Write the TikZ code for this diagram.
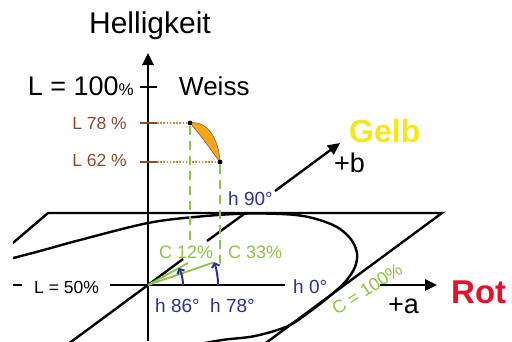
\documentclass[tikz,border=0pt]{standalone}
\usepackage{fontspec}
\setmainfont{Liberation Sans}
\usetikzlibrary{arrows.meta}
\definecolor{myblue}{HTML}{2E3192}
\definecolor{mygreen}{HTML}{8CC63F}
\definecolor{mybrown}{HTML}{8B4A2B}
\definecolor{mydots}{HTML}{D08A2E}
\definecolor{banana}{HTML}{F6A51E}
\definecolor{gelb}{HTML}{F3E81A}
\definecolor{rot}{HTML}{E2132B}
\newcommand{\fs}[1]{\fontsize{#1}{#1}\selectfont}
\tikzset{
  axisline/.style={line width=2.6pt, black},
  planeline/.style={line width=2.4pt, black},
  axtip/.style={-{Triangle[length=12pt,width=11pt]}},
  greenline/.style={line width=1.8pt, mygreen},
  greendash/.style={line width=1.8pt, mygreen, dash pattern=on 9pt off 6pt},
  dotline/.style={line width=1.8pt, mydots, dash pattern=on 1.6pt off 1.6pt},
  bluearc/.style={line width=2pt, myblue, -{Straight Barb[length=3.5pt,width=8pt]}},
  ticks/.style={line width=2.8pt, mybrown},
  lbl/.style={inner sep=0pt, anchor=base west},
  dotnode/.style={circle, fill=black, inner sep=0pt, minimum size=4.6pt}
}
\begin{document}
\begin{tikzpicture}[x=1pt,y=-1pt]
\useasboundingbox (0,0) rectangle (512,341);
\coordinate (O) at (148,285);
% plane and chroma ellipse
\begin{scope}
\clip (13,0) rectangle (512,341);
\draw[planeline, line join=miter] (0,254) -- (48,213) -- (442,213) -- (255,351);
\draw[planeline] plot[smooth, tension=0.55] coordinates {
 (0,261.5) (40,251) (80,240) (148,223) (200,216.5) (250,213.5) (300,215.5)
 (333,225) (350,238) (357,253) (355,267) (346,281) (331,295) (312,310)
 (288,326) (255,336) (222,340) (190,346)};
% -b extension
\draw[axisline, line width=2.4pt] (O) -- (60,350);
\end{scope}
% b axis segments
\coordinate (b1) at (183,259);
\coordinate (b2) at (207,241);
\coordinate (b3) at (244,214);
\coordinate (b4) at (275,191);
\coordinate (btip) at (340,143);
\draw[axisline, line width=2.4pt] (O) -- (b1);
\draw[axisline, line width=2.4pt] (b2) -- (b3);
\draw[axisline, line width=2.4pt, axtip] (b4) -- (btip);
% a axis
\coordinate (aL) at (110,285);
\coordinate (aR) at (285,285);
\coordinate (aS) at (380,285);
\coordinate (atip) at (437,285);
\coordinate (d1) at (13,285);
\coordinate (d2) at (22,285);
\draw[axisline] (aL) -- (aR);
\draw[axisline, axtip] (aS) -- (atip);
\draw[axisline] (d1) -- (d2);
% vertical axis
\coordinate (vbot) at (148,341);
\coordinate (vtop) at (148,53);
\draw[axisline, axtip] (vbot) -- (vtop);
\coordinate (t100a) at (140,87);
\coordinate (t100b) at (157,87);
\draw[axisline, line width=2.4pt] (t100a) -- (t100b);
\coordinate (t78a) at (140,123);
\coordinate (t78b) at (157,123);
\coordinate (t62a) at (140,162);
\coordinate (t62b) at (157,162);
\draw[ticks] (t78a) -- (t78b);
\draw[ticks] (t62a) -- (t62b);
% colour points
\node[dotnode] (p78) at (190,123) {};
\node[dotnode] (p62) at (220,162) {};
\draw[dotline] (t78b) -- (p78);
\draw[dotline] (t62b) -- (p62);
\coordinate (g12) at (190,243);
\coordinate (g33) at (220,263);
\coordinate (c12) at (188,263);
\coordinate (c33) at (212,263);
\draw[greendash] (p78) -- (g12);
\draw[greendash] (p62) -- (g33) -- (c33);
\draw[greenline] (O) -- (c12);
\draw[greenline] (O) -- (c33);
\fill[banana, draw=mydots!70!black, line width=0.6pt]
  (p78.center) .. controls (207,120) and (219,139) .. (p62.center)
  .. controls (213,153) and (200,134) .. (p78.center);
\node[dotnode] at (p78) {};
\node[dotnode] at (p62) {};
% hue arcs
\draw[bluearc] (183,285) arc[start angle=0, end angle=29, radius=35pt];
\draw[bluearc] (218,285) arc[start angle=0, end angle=19, radius=70pt];
% labels
\node[lbl, anchor=base] (hell) at (150,33) {\fs{30}Helligkeit};
\node[lbl, anchor=base east] (l100) at (134,95) {\fs{27}L = 100{\fs{17}\%}};
\node[lbl] (weiss) at (179,95) {\fs{26}Weiss};
\node[lbl, anchor=base east, text=mybrown] (l78) at (127,129) {\fs{17.5}L 78 \%};
\node[lbl, anchor=base east, text=mybrown] (l62) at (127,166) {\fs{17.5}L 62 \%};
\node[lbl, text=gelb] (gelb) at (349,142) {\fs{32}\bfseries Gelb};
\node[lbl] (plb) at (334,172) {\fs{27}+b};
\node[lbl, text=myblue] (h90) at (228,205) {\fs{19}h 90°};
\node[lbl, text=mygreen] (c12l) at (159,258) {\fs{18}C 12\%};
\node[lbl, text=mygreen] (c33l) at (228,258) {\fs{18}C 33\%};
\node[lbl, text=myblue] (h86) at (155,312) {\fs{19}h 86°};
\node[lbl, text=myblue] (h78) at (210,312) {\fs{19}h 78°};
\node[lbl] (l50) at (34,293) {\fs{17.5}L = 50\%};
\node[lbl, text=myblue] (h0) at (293,293) {\fs{19}h 0°};
\node[lbl] (pla) at (388,313) {\fs{27}+a};
\node[lbl, text=rot] (rot) at (451,303) {\fs{33}\bfseries Rot};
\node[inner sep=0pt, text=mygreen, rotate=33] (c100) at (367,289) {\fs{18}C = 100\%};
\end{tikzpicture}
\end{document}
